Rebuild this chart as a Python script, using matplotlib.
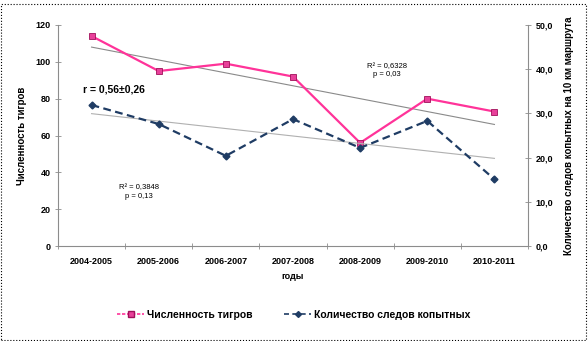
import numpy as np
import matplotlib
matplotlib.use('Agg')
import matplotlib.pyplot as plt
from matplotlib.lines import Line2D
from matplotlib.patches import Rectangle

# --- data ---
years = ['2004-2005', '2005-2006', '2006-2007', '2007-2008',
         '2008-2009', '2009-2010', '2010-2011']
tigers = [114, 95, 99, 92, 56, 80, 73]
ungulates = [31.9, 27.6, 20.4, 28.7, 22.2, 28.3, 15.1]

PINK = '#FF3399'
NAVY = '#1F3C64'
GRID_GRAY = '#8C8C8C'

plt.rcParams['font.family'] = ['Liberation Sans', 'DejaVu Sans']

fig = plt.figure(figsize=(5.88, 3.41), dpi=100)
ax = fig.add_axes([58 / 588, 1 - 246 / 341, 470 / 588, 221 / 341])
ax2 = ax.twinx()

x = np.arange(len(years))

# linear trend lines (as Excel adds them)
k1, b1 = np.polyfit(x, tigers, 1)
k2, b2 = np.polyfit(x, ungulates, 1)
ax.plot(x, k1 * x + b1, color='#8A8A8A', linewidth=0.8, zorder=2)
ax2.plot(x, k2 * x + b2, color='#B0B0B0', linewidth=0.8, zorder=2)

ax.plot(x, tigers, color=PINK, linewidth=1.6, marker='s', markersize=5,
        markerfacecolor='#E8409A', markeredgecolor='#A0105A', markeredgewidth=0.6,
        zorder=4)
ax2.plot(x, ungulates, color=NAVY, linewidth=1.6, linestyle=(0, (3.5, 2)),
         marker='D', markersize=3.5, markerfacecolor=NAVY, markeredgecolor=NAVY,
         zorder=4)

ax.set_xlim(-0.5, 6.5)
ax.set_ylim(0, 120)
ax2.set_ylim(0, 50)
ax.set_yticks(range(0, 121, 20))
ax2.set_yticks(range(0, 51, 10))
ax2.set_yticklabels([f'{v},0' for v in range(0, 51, 10)])

ax.set_xticks(x)
ax.set_xticklabels(years)
ax.set_xticks(np.arange(-0.5, 7, 1), minor=True)
ax.tick_params(axis='x', which='major', length=0, pad=8, labelsize=6.5)
ax.tick_params(axis='x', which='minor', direction='inout', length=5,
               color=GRID_GRAY, width=0.6)
ax.tick_params(axis='y', direction='inout', length=5, color=GRID_GRAY,
               width=0.6, labelsize=6.5, pad=3)
ax2.tick_params(axis='y', direction='inout', length=5, color=GRID_GRAY,
                width=0.6, labelsize=6.5, pad=3)
for lbl in ax.get_xticklabels() + ax.get_yticklabels() + ax2.get_yticklabels():
    lbl.set_fontweight('bold')

for a in (ax, ax2):
    a.spines['top'].set_visible(False)
    for s in ('left', 'right', 'bottom'):
        a.spines[s].set_color(GRID_GRAY)
        a.spines[s].set_linewidth(0.8)
ax.spines['right'].set_visible(False)
ax2.spines['left'].set_visible(False)
ax2.spines['bottom'].set_visible(False)

ax.set_xlabel('годы', fontsize=6.5, fontweight='bold', labelpad=4)
ax.set_ylabel('Численность тигров', fontsize=7, fontweight='bold', labelpad=6)
ax2.set_ylabel('Количество следов копытных на 10 км маршрута', fontsize=7,
               fontweight='bold', labelpad=8)

# annotations
ax.text(-0.13, 85, 'r = 0,56±0,26', fontsize=7.5, fontweight='bold',
        va='center', ha='left')
ax.text(4.4, 95.5, 'R² = 0,6328\np = 0,03', fontsize=5.5, ha='center',
        va='center', linespacing=1.2)
ax.text(0.7, 29.3, 'R² = 0,3848\np = 0,13', fontsize=5.5, ha='center',
        va='center', linespacing=1.2)

# legend
handles = [
    Line2D([0], [0], color=PINK, linewidth=1.2, linestyle=(0, (2, 1)), marker='s',
           markersize=4.5, markerfacecolor='#E8409A', markeredgecolor='#A0105A'),
    Line2D([0], [0], color=NAVY, linewidth=1.2, linestyle=(0, (3, 2)), marker='D',
           markersize=3, markerfacecolor=NAVY, markeredgecolor=NAVY),
]
fig.legend(handles, ['Численность тигров', 'Количество следов копытных'],
           loc='center', bbox_to_anchor=(0.5, 1 - 315 / 341), ncol=2,
           frameon=False, handlelength=2.6, columnspacing=3,
           prop={'weight': 'bold', 'size': 7.5}, handletextpad=0.3)

# dotted border around the whole picture
fig.patches.append(Rectangle((1.5 / 588, 1.5 / 341), 584 / 588, 336 / 341,
                             transform=fig.transFigure, fill=False,
                             edgecolor='black', linewidth=0.8, linestyle=':'))

fig.savefig('out.png', dpi=100)
